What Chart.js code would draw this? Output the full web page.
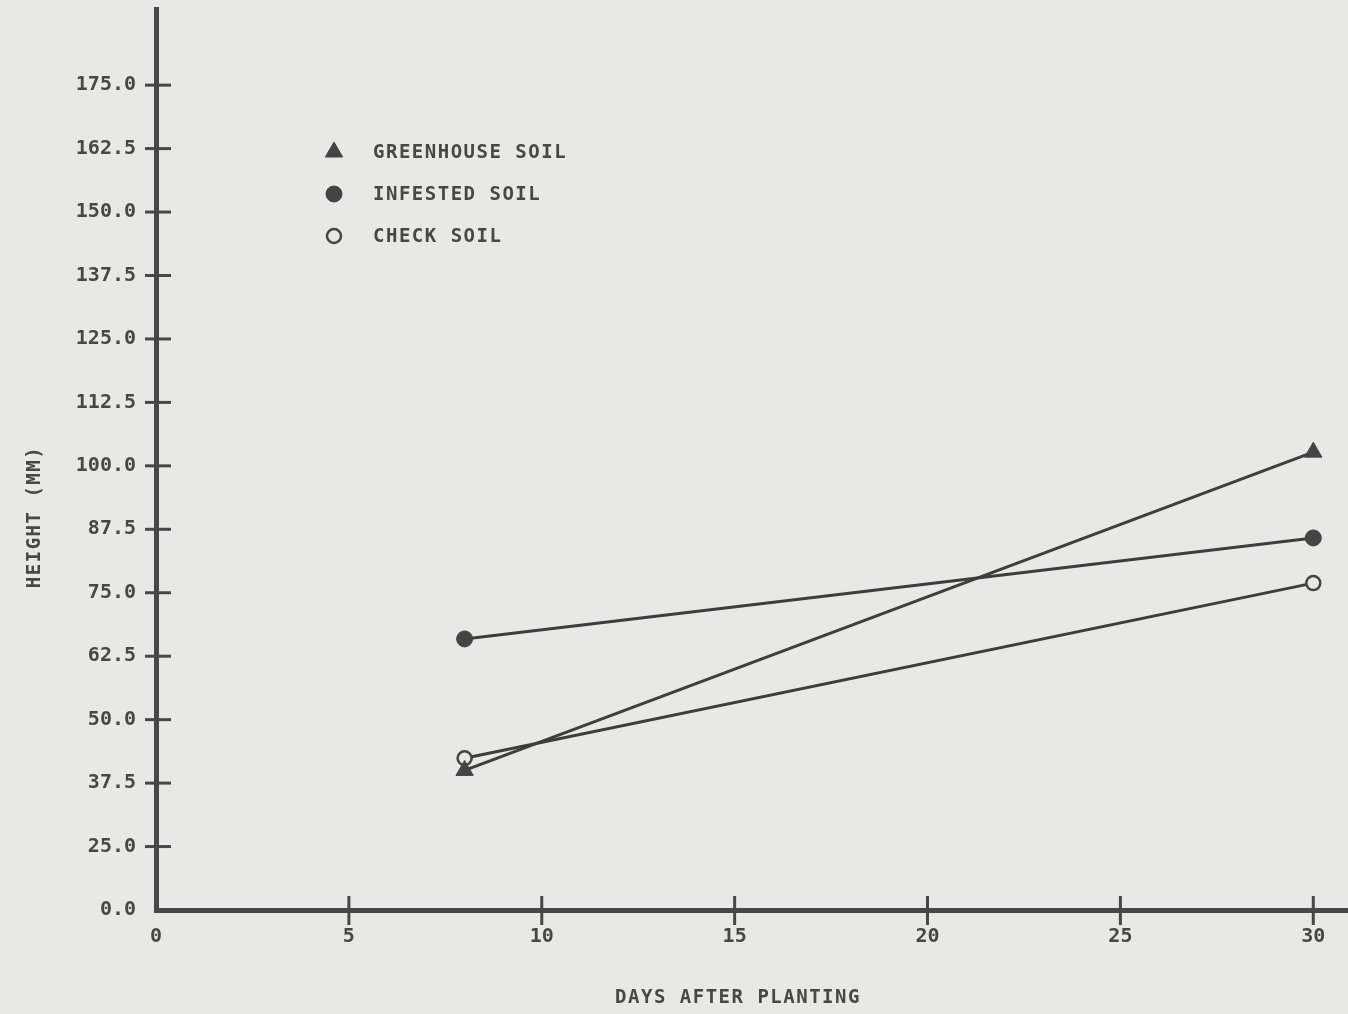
<!DOCTYPE html>
<html>
<head>
<meta charset="utf-8">
<script src="https://cdn.jsdelivr.net/npm/chart.js@4/dist/chart.umd.min.js"></script>
<style>
html,body{margin:0;padding:0;background:#e8e8e6;}
#wrap{width:1348px;height:1014px;}
</style>
</head>
<body>
<div id="wrap"><canvas id="c" width="1348" height="1014"></canvas></div>
<script>
// ---- data ----
const days = [8, 30];
const greenhouseSoil = [40.0, 102.7];
const infestedSoil = [65.9, 85.8];
const checkSoil = [42.4, 76.9];
const seriesNames = ['GREENHOUSE SOIL', 'INFESTED SOIL', 'CHECK SOIL'];
const yTickValues = [12.5, 25, 37.5, 50, 62.5, 75, 87.5, 100, 112.5, 125, 137.5, 150, 162.5, 175];
const yTickLabels = ['0.0', '25.0', '37.5', '50.0', '62.5', '75.0', '87.5', '100.0', '112.5', '125.0', '137.5', '150.0', '162.5', '175.0'];
const xTickValues = [0, 5, 10, 15, 20, 25, 30];
const xTickLabels = ['0', '5', '10', '15', '20', '25', '30'];
const xTitle = 'DAYS AFTER PLANTING';
const yTitle = 'HEIGHT (MM)';

const INK = '#474747';
const BG = '#e8e8e6';
const FONT = '"DejaVu Sans Mono", "Liberation Mono", monospace';

const pts = arr => days.map((d, i) => ({x: d, y: arr[i]}));

const bgPlugin = {
  id: 'bg',
  beforeDraw(chart) {
    const ctx = chart.ctx;
    ctx.save();
    ctx.fillStyle = BG;
    ctx.fillRect(0, 0, chart.width, chart.height);
    ctx.restore();
  }
};

const tickMarks = {
  id: 'tickMarks',
  afterDraw(chart) {
    const ctx = chart.ctx;
    const xs = chart.scales.x, ys = chart.scales.y;
    const ax = xs.getPixelForValue(xs.min);
    const ay = ys.getPixelForValue(ys.min);
    ctx.save();
    ctx.strokeStyle = INK;
    ctx.lineWidth = 3;
    ys.ticks.forEach(t => {
      if (t.value === ys.min) return;
      const py = ys.getPixelForValue(t.value);
      ctx.beginPath(); ctx.moveTo(ax - 11, py); ctx.lineTo(ax + 15, py); ctx.stroke();
    });
    xs.ticks.forEach(t => {
      if (t.value === xs.min) return;
      const px = xs.getPixelForValue(t.value);
      ctx.beginPath(); ctx.moveTo(px, ay - 14); ctx.lineTo(px, ay + 15); ctx.stroke();
    });
    // axis titles
    ctx.fillStyle = INK;
    ctx.font = 'bold 19px ' + FONT;
    ctx.letterSpacing = '1.5px';
    ctx.textAlign = 'center';
    ctx.textBaseline = 'middle';
    ctx.fillText(xTitle, 738, 998);
    ctx.save();
    ctx.translate(35, 517);
    ctx.rotate(-Math.PI / 2);
    ctx.fillText(yTitle, 0, 0);
    ctx.restore();
    ctx.restore();
  }
};

const legendPlugin = {
  id: 'innerLegend',
  afterDatasetsDraw(chart) {
    const ctx = chart.ctx;
    const rows = [152, 194, 236];
    ctx.save();
    chart.data.datasets.forEach((ds, i) => {
      const y = rows[i];
      ctx.fillStyle = ds.pointBackgroundColor;
      ctx.strokeStyle = ds.pointBorderColor;
      ctx.lineWidth = ds.pointBorderWidth;
      Chart.helpers.drawPoint(ctx, {
        pointStyle: ds.pointStyle,
        radius: ds.legendRadius,
        borderWidth: ds.pointBorderWidth,
        rotation: 0
      }, 334, y);
      ctx.fillStyle = INK;
      ctx.font = 'bold 19px ' + FONT;
      ctx.textAlign = 'left';
      ctx.textBaseline = 'middle';
      ctx.letterSpacing = '1.5px';
      ctx.fillText(ds.label, 373, y + 1);
    });
    ctx.restore();
  }
};

new Chart(document.getElementById('c'), {
  type: 'line',
  data: {
    datasets: [
      {
        label: seriesNames[0], data: pts(greenhouseSoil),
        borderColor: '#3d3d3d', borderWidth: 3,
        pointStyle: 'triangle', pointRadius: 10, legendRadius: 10,
        pointBackgroundColor: '#444', pointBorderColor: '#444', pointBorderWidth: 1
      },
      {
        label: seriesNames[1], data: pts(infestedSoil),
        borderColor: '#3d3d3d', borderWidth: 3,
        pointStyle: 'circle', pointRadius: 8, legendRadius: 8,
        pointBackgroundColor: '#444', pointBorderColor: '#444', pointBorderWidth: 1
      },
      {
        label: seriesNames[2], data: pts(checkSoil),
        borderColor: '#3d3d3d', borderWidth: 3,
        pointStyle: 'circle', pointRadius: 7, legendRadius: 7,
        pointBackgroundColor: BG, pointBorderColor: '#444', pointBorderWidth: 2.5
      }
    ]
  },
  options: {
    responsive: false,
    animation: false,
    devicePixelRatio: 1,
    clip: false,
    layout: {autoPadding: false, padding: {top: 9, left: 0, right: 0, bottom: 0}},
    plugins: {legend: {display: false}, tooltip: {enabled: false}},
    elements: {line: {tension: 0}},
    scales: {
      x: {
        type: 'linear', min: 0, max: 30.9,
        afterFit: s => { s.height = 104; s.paddingLeft = 0; s.paddingRight = 0; },
        afterBuildTicks: s => { s.ticks = xTickValues.map(v => ({value: v})); },
        grid: {display: false, drawTicks: false},
        border: {display: true, color: INK, width: 5},
        ticks: {
          color: INK, padding: 15, maxRotation: 0, autoSkip: false,
          font: {family: FONT, size: 20, weight: 'bold'},
          callback: v => { const i = xTickValues.indexOf(v); return i >= 0 ? xTickLabels[i] : ''; }
        },
        title: {display: false}
      },
      y: {
        type: 'linear', min: 12.5, max: 190,
        afterFit: s => { s.width = 156; s.paddingTop = 0; s.paddingBottom = 0; },
        afterBuildTicks: s => { s.ticks = yTickValues.map(v => ({value: v})); },
        grid: {display: false, drawTicks: false},
        border: {display: true, color: INK, width: 5},
        ticks: {
          color: INK, padding: 20, autoSkip: false,
          font: {family: FONT, size: 20, weight: 'bold'},
          callback: v => { const i = yTickValues.indexOf(v); return i >= 0 ? yTickLabels[i] : ''; }
        },
        title: {display: false}
      }
    }
  },
  plugins: [bgPlugin, tickMarks, legendPlugin]
});
</script>
</body>
</html>
